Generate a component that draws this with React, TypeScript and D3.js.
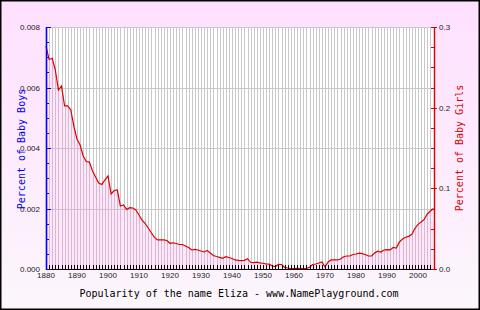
import React from "react";
import * as d3 from "d3";

const years: number[] = d3.range(1880, 2006);
const girls: number[] = [
  0.2764, 0.2597, 0.2612, 0.2467, 0.2219, 0.2269, 0.2021, 0.2021, 0.1971, 0.1767,
  0.1612, 0.1537, 0.1401, 0.1333, 0.1326, 0.1215, 0.1141, 0.1066, 0.1048, 0.1103,
  0.1153, 0.0930, 0.0973, 0.0979, 0.0781, 0.0793, 0.0738, 0.0760, 0.0756, 0.0731,
  0.0669, 0.0607, 0.0564, 0.0508, 0.0446, 0.0391, 0.0360, 0.0360, 0.0360, 0.0353,
  0.0319, 0.0325, 0.0316, 0.0304, 0.0304, 0.0285, 0.0267, 0.0236, 0.0244, 0.0236,
  0.0223, 0.0211, 0.0229, 0.0198, 0.0167, 0.0155, 0.0145, 0.0133, 0.0152, 0.0143,
  0.0130, 0.0112, 0.0108, 0.0105, 0.0108, 0.0128, 0.0083, 0.0078, 0.0084, 0.0077,
  0.0071, 0.0062, 0.0060, 0.0037, 0.0031, 0.0058, 0.0056, 0.0019, 0.0012, 0.0006,
  0.0005, 0.0007, 0.0005, 0.0006, 0.0008, 0.0021, 0.0056, 0.0062, 0.0074, 0.0087,
  0.0025, 0.0087, 0.0112, 0.0112, 0.0112, 0.0124, 0.0152, 0.0161, 0.0161, 0.0180,
  0.0186, 0.0196, 0.0190, 0.0180, 0.0161, 0.0161, 0.0198, 0.0221, 0.0211, 0.0236,
  0.0239, 0.0236, 0.0267, 0.0260, 0.0335, 0.0372, 0.0393, 0.0405, 0.0430, 0.0502,
  0.0554, 0.0583, 0.0614, 0.0682, 0.0719, 0.0750,
];
const xLabels: number[] = d3.range(1880, 2001, 10);
const leftMajor: number[] = [0, 0.002, 0.004, 0.006, 0.008];
const leftMinor: number[] = d3.range(0, 0.0081, 0.0005);
const rightMajor: number[] = [0, 0.1, 0.2, 0.3];
const rightMinor: number[] = d3.range(0, 0.301, 0.025);
const title = "Popularity of the name Eliza - www.NamePlayground.com";
const leftTitle = "Percent of Baby Boys";
const rightTitle = "Percent of Baby Girls";

export default function App() {
  const W = 480, H = 310;
  const L = 46, R = 434, T = 27, B = 269;
  const x = d3.scaleLinear().domain([1880, 2005]).range([L, 433.5]);
  const yL = d3.scaleLinear().domain([0, 0.008]).range([B, T]);
  const yR = d3.scaleLinear().domain([0, 0.3]).range([B, T]);
  const px = (v: number) => Math.round(v) + 0.5;
  const pts: [number, number][] = years.map((yr, i) => [yr, girls[i]]);
  const area = d3.area<[number, number]>().x(d => x(d[0])).y0(yR(0)).y1(d => yR(d[1]))(pts) || "";
  const line = d3.line<[number, number]>().x(d => x(d[0])).y(d => yR(d[1]))(pts) || "";
  const tickFont = "'Liberation Sans', Arial, sans-serif";
  const mono = "'DejaVu Sans Mono', monospace";
  return (
    <svg width={W} height={H} style={{ position: "absolute", left: 0, top: 0 }}>
      <defs>
        <linearGradient id="bg" x1="0" y1="0" x2="0" y2="1">
          <stop offset="0" stopColor="#ffe0ff" />
          <stop offset="1" stopColor="#fcf6fc" />
        </linearGradient>
      </defs>
      <rect x={0} y={0} width={W} height={H} fill="url(#bg)" />
      <rect x={0.75} y={0.75} width={W - 1.5} height={H - 1.5} fill="none" stroke="#000" strokeWidth={1.5} />
      <rect x={L} y={T} width={R - L} height={B - T} fill="#fff" />
      {years.map(yr => (
        <line key={"g" + yr} x1={px(x(yr))} x2={px(x(yr))} y1={T} y2={B} stroke="#c8c8c8" strokeWidth={1} />
      ))}
      {leftMajor.map(v => (
        <line key={"h" + v} x1={L} x2={R} y1={px(yL(v))} y2={px(yL(v))} stroke="#c8c8c8" strokeWidth={1} />
      ))}
      <path d={area} fill="#ff80e6" fillOpacity={0.2} />
      <path d={line} fill="none" stroke="#dd0000" strokeWidth={1.2} />
      {years.map(yr => (
        <line key={"t" + yr} x1={px(x(yr))} x2={px(x(yr))} y1={B - 4} y2={B} stroke="#000" strokeWidth={1} />
      ))}
      <line x1={L} x2={R} y1={B + 0.5} y2={B + 0.5} stroke="#000" strokeWidth={1} />
      {xLabels.map(yr => (
        <text key={"xl" + yr} x={x(yr)} y={278} textAnchor="middle" fontFamily={tickFont} fontSize={8} fill="#222">{yr}</text>
      ))}
      <line x1={L + 0.5} x2={L + 0.5} y1={T} y2={B + 1} stroke="#0000ff" strokeWidth={1.6} />
      {leftMinor.map(v => (
        <line key={"lm" + v} x1={L} x2={L + 3} y1={px(yL(v))} y2={px(yL(v))} stroke="#0000ff" strokeWidth={1} />
      ))}
      {leftMajor.map(v => (
        <g key={"lM" + v}>
          <line x1={L} x2={L + 5} y1={px(yL(v))} y2={px(yL(v))} stroke="#0000ff" strokeWidth={1} />
          <text x={40} y={yL(v) + 3} textAnchor="end" fontFamily={tickFont} fontSize={8} fill="#222">{v.toFixed(3)}</text>
        </g>
      ))}
      <line x1={R + 0.5} x2={R + 0.5} y1={T} y2={B + 1} stroke="#dd0000" strokeWidth={1.4} />
      {rightMinor.map(v => (
        <line key={"rm" + v} x1={R - 3} x2={R} y1={px(yR(v))} y2={px(yR(v))} stroke="#dd0000" strokeWidth={1} />
      ))}
      {rightMajor.map(v => (
        <g key={"rM" + v}>
          <line x1={R - 3} x2={R + 3} y1={px(yR(v))} y2={px(yR(v))} stroke="#dd0000" strokeWidth={1} />
          <text x={439} y={yR(v) + 3} textAnchor="start" fontFamily={tickFont} fontSize={8} fill="#222">{v.toFixed(1)}</text>
        </g>
      ))}
      <text x={0} y={0} transform={`translate(25,149) rotate(-90)`} textAnchor="middle" fontFamily={mono} fontSize={10} fill="#0000ff">{leftTitle}</text>
      <text x={0} y={0} transform={`translate(463,148) rotate(-90)`} textAnchor="middle" fontFamily={mono} fontSize={10} fill="#dd0000">{rightTitle}</text>
      <text x={239} y={297} textAnchor="middle" fontFamily={mono} fontSize={10} fill="#000">{title}</text>
    </svg>
  );
}
